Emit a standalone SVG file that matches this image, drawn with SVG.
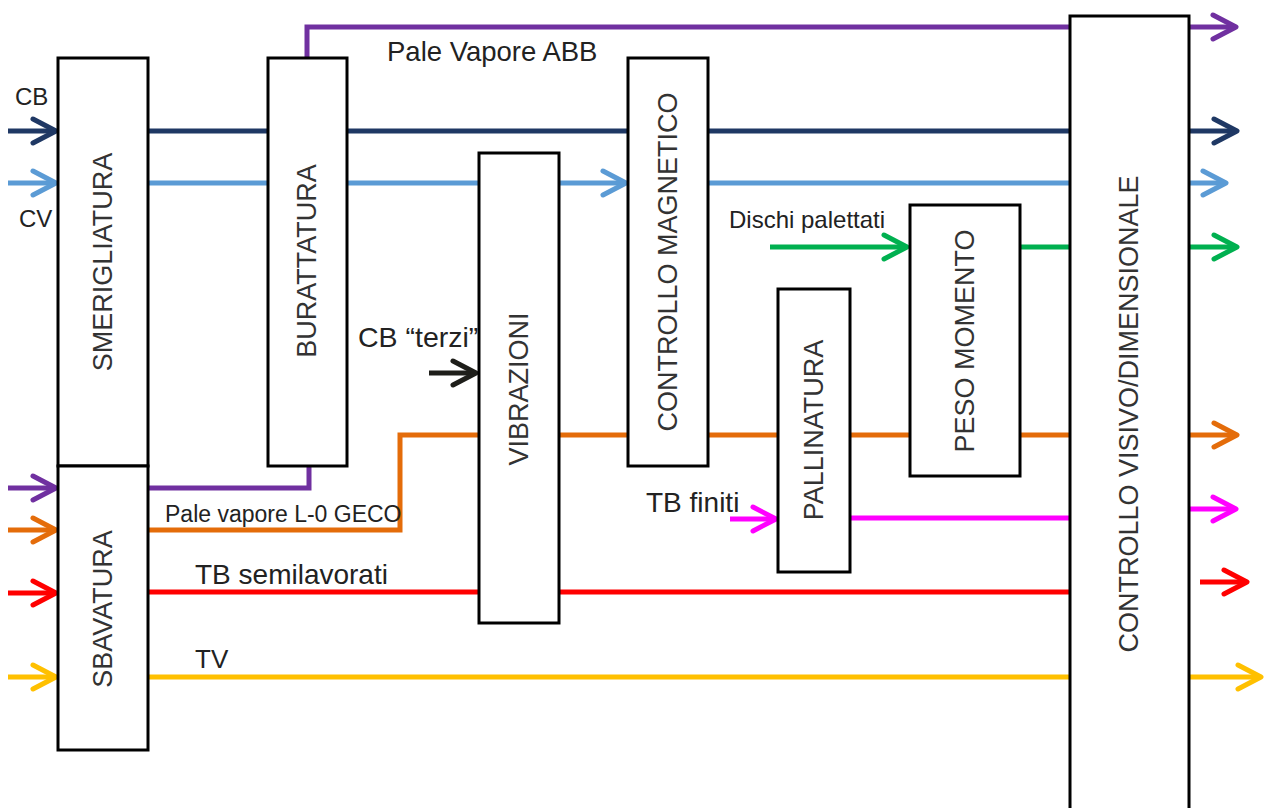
<svg xmlns="http://www.w3.org/2000/svg" width="1264" height="808" viewBox="0 0 1264 808">
  <style>
    .box { fill: #ffffff; stroke: #000000; stroke-width: 3; }
    .lbl { font-family: "Liberation Sans", Arial, sans-serif; font-size: 27px; fill: #333333; text-anchor: middle; dominant-baseline: central; }
    .txt { font-family: "Liberation Sans", Arial, sans-serif; fill: #222222; }
    .ln { fill: none; stroke-width: 5; stroke-linejoin: miter; }
    .purple { stroke: #7030a0; }
    .navy { stroke: #1f3864; }
    .sky { stroke: #5b9bd5; }
    .green { stroke: #00b050; }
    .orange { stroke: #e46c0a; }
    .magenta { stroke: #ff00ff; }
    .red { stroke: #ff0000; }
    .yellow { stroke: #ffc000; }
    .dark { stroke: #1e1e1a; }
    .head { fill: none; stroke-width: 5; stroke-linecap: round; stroke-linejoin: round; }
  </style>
  <defs>
    <marker id="ah-purple" viewBox="-28 -16 32 32" markerWidth="32" markerHeight="32" refX="0" refY="0" orient="auto" markerUnits="userSpaceOnUse"><path class="head purple" d="M-23,-12 L0,0 L-23,12"/></marker>
    <marker id="ah-navy" viewBox="-28 -16 32 32" markerWidth="32" markerHeight="32" refX="0" refY="0" orient="auto" markerUnits="userSpaceOnUse"><path class="head navy" d="M-23,-12 L0,0 L-23,12"/></marker>
    <marker id="ah-sky" viewBox="-28 -16 32 32" markerWidth="32" markerHeight="32" refX="0" refY="0" orient="auto" markerUnits="userSpaceOnUse"><path class="head sky" d="M-23,-12 L0,0 L-23,12"/></marker>
    <marker id="ah-green" viewBox="-28 -16 32 32" markerWidth="32" markerHeight="32" refX="0" refY="0" orient="auto" markerUnits="userSpaceOnUse"><path class="head green" d="M-23,-12 L0,0 L-23,12"/></marker>
    <marker id="ah-orange" viewBox="-28 -16 32 32" markerWidth="32" markerHeight="32" refX="0" refY="0" orient="auto" markerUnits="userSpaceOnUse"><path class="head orange" d="M-23,-12 L0,0 L-23,12"/></marker>
    <marker id="ah-magenta" viewBox="-28 -16 32 32" markerWidth="32" markerHeight="32" refX="0" refY="0" orient="auto" markerUnits="userSpaceOnUse"><path class="head magenta" d="M-23,-12 L0,0 L-23,12"/></marker>
    <marker id="ah-red" viewBox="-28 -16 32 32" markerWidth="32" markerHeight="32" refX="0" refY="0" orient="auto" markerUnits="userSpaceOnUse"><path class="head red" d="M-23,-12 L0,0 L-23,12"/></marker>
    <marker id="ah-yellow" viewBox="-28 -16 32 32" markerWidth="32" markerHeight="32" refX="0" refY="0" orient="auto" markerUnits="userSpaceOnUse"><path class="head yellow" d="M-23,-12 L0,0 L-23,12"/></marker>
    <marker id="ah-dark" viewBox="-28 -16 32 32" markerWidth="32" markerHeight="32" refX="0" refY="0" orient="auto" markerUnits="userSpaceOnUse"><path class="head dark" d="M-23,-12 L0,0 L-23,12"/></marker>
  </defs>

  <rect width="1264" height="808" fill="#ffffff"/>

  <!-- flows: drawn first so the process boxes cover the stretches that pass through them -->
  <g id="connectors">
    <!-- CB -->
    <path class="ln navy" d="M8,131 H56" marker-end="url(#ah-navy)"/>
    <path class="ln navy" d="M148,131 H1237" marker-end="url(#ah-navy)"/>
    <!-- CV -->
    <path class="ln sky" d="M8,183 H56" marker-end="url(#ah-sky)"/>
    <path class="ln sky" d="M148,183 H626" marker-end="url(#ah-sky)"/>
    <path class="ln sky" d="M708,183 H1226" marker-end="url(#ah-sky)"/>
    <!-- Pale Vapore ABB -->
    <path class="ln purple" d="M8,488 H56" marker-end="url(#ah-purple)"/>
    <path class="ln purple" d="M148,488 H309 V466"/>
    <path class="ln purple" d="M307,58 V27 H1236" marker-end="url(#ah-purple)"/>
    <!-- Pale vapore L-0 GECO -->
    <path class="ln orange" d="M8,530 H56" marker-end="url(#ah-orange)"/>
    <path class="ln orange" d="M148,530 H400 V435 H1237" marker-end="url(#ah-orange)"/>
    <!-- TB semilavorati -->
    <path class="ln red" d="M8,593 H56" marker-end="url(#ah-red)"/>
    <path class="ln red" d="M148,592 H1070"/>
    <path class="ln red" d="M1200,582 H1247" marker-end="url(#ah-red)"/>
    <!-- TV -->
    <path class="ln yellow" d="M8,677 H56" marker-end="url(#ah-yellow)"/>
    <path class="ln yellow" d="M148,677 H1261" marker-end="url(#ah-yellow)"/>
    <!-- CB terzi -->
    <path class="ln dark" d="M429,373 H476" marker-end="url(#ah-dark)"/>
    <!-- Dischi palettati -->
    <path class="ln green" d="M770,247 H907" marker-end="url(#ah-green)"/>
    <path class="ln green" d="M1020,247 H1237" marker-end="url(#ah-green)"/>
    <!-- TB finiti -->
    <path class="ln magenta" d="M730,519 H776" marker-end="url(#ah-magenta)"/>
    <path class="ln magenta" d="M850,518 H1070"/>
    <path class="ln magenta" d="M1189,509 H1236" marker-end="url(#ah-magenta)"/>
  </g>

  <!-- process steps -->
  <g id="smerigliatura">
    <rect class="box" x="58" y="58" width="90" height="408"/>
    <text class="lbl" transform="translate(103,262) rotate(-90)">SMERIGLIATURA</text>
  </g>
  <g id="sbavatura">
    <rect class="box" x="58" y="466" width="90" height="284"/>
    <text class="lbl" transform="translate(103,609) rotate(-90)">SBAVATURA</text>
  </g>
  <g id="burattatura">
    <rect class="box" x="268" y="58" width="79" height="408"/>
    <text class="lbl" transform="translate(307,261) rotate(-90)">BURATTATURA</text>
  </g>
  <g id="vibrazioni">
    <rect class="box" x="479" y="153" width="80" height="470"/>
    <text class="lbl" transform="translate(519,389) rotate(-90)">VIBRAZIONI</text>
  </g>
  <g id="controllo-magnetico">
    <rect class="box" x="628" y="58" width="80" height="408"/>
    <text class="lbl" transform="translate(668,262) rotate(-90)">CONTROLLO MAGNETICO</text>
  </g>
  <g id="pallinatura">
    <rect class="box" x="778" y="289" width="72" height="283"/>
    <text class="lbl" transform="translate(814,430) rotate(-90)">PALLINATURA</text>
  </g>
  <g id="peso-momento">
    <rect class="box" x="910" y="205" width="110" height="271"/>
    <text class="lbl" transform="translate(965,341) rotate(-90)">PESO MOMENTO</text>
  </g>
  <g id="controllo-visivo">
    <rect class="box" x="1070" y="16" width="119" height="810"/>
    <text class="lbl" transform="translate(1129,414) rotate(-90)">CONTROLLO VISIVO/DIMENSIONALE</text>
  </g>

  <!-- flow labels -->
  <g id="labels">
    <text class="txt" x="15" y="105" font-size="24">CB</text>
    <text class="txt" x="19" y="227" font-size="24">CV</text>
    <text class="txt" x="387" y="61" font-size="27.5">Pale Vapore ABB</text>
    <text class="txt" x="358" y="347" font-size="28.5">CB “terzi”</text>
    <text class="txt" x="729" y="228" font-size="24">Dischi palettati</text>
    <text class="txt" x="165" y="522" font-size="23">Pale vapore L-0 GECO</text>
    <text class="txt" x="195" y="584" font-size="28">TB semilavorati</text>
    <text class="txt" x="646" y="512" font-size="28">TB finiti</text>
    <text class="txt" x="195" y="668" font-size="26">TV</text>
  </g>
</svg>
